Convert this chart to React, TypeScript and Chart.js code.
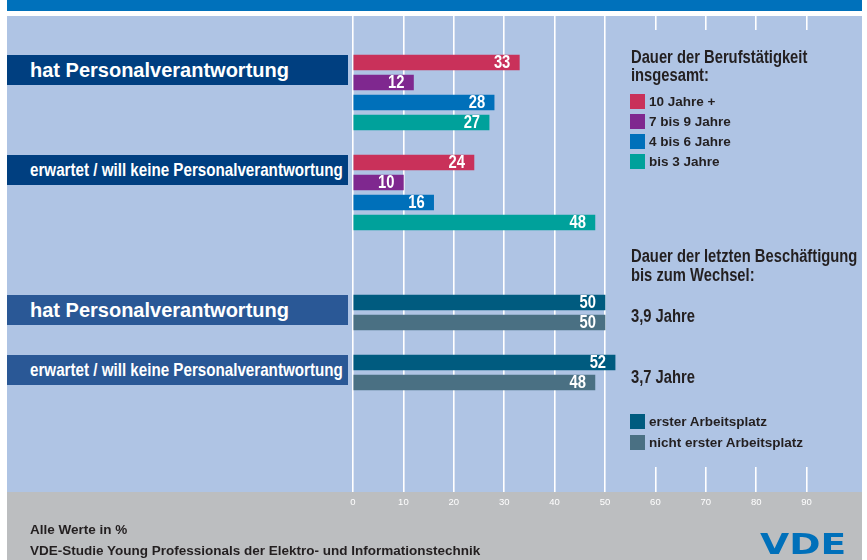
import React, { useEffect, useRef } from 'react';
import { Chart, registerables } from 'chart.js';

Chart.register(...registerables);

// ---------- data ----------
const groupLabels = [
  'hat Personalverantwortung',
  'erwartet / will keine Personalverantwortung',
  'hat Personalverantwortung',
  'erwartet / will keine Personalverantwortung',
];

const tenureTitle = ['Dauer der Berufstätigkeit', 'insgesamt:'];
const tenureCategories = ['10 Jahre +', '7 bis 9 Jahre', '4 bis 6 Jahre', 'bis 3 Jahre'];
const tenureHat = [33, 12, 28, 27];
const tenureErwartet = [24, 10, 16, 48];

const jobTitle = ['Dauer der letzten Beschäftigung', 'bis zum Wechsel:'];
const jobCategories = ['erster Arbeitsplatz', 'nicht erster Arbeitsplatz'];
const jobHat = [50, 50];
const jobErwartet = [52, 48];
const lastJobDuration = ['3,9 Jahre', '3,7 Jahre'];

const xTickValues = [0, 10, 20, 30, 40, 50, 60, 70, 80, 90];
const footerLines = ['Alle Werte in %', 'VDE-Studie Young Professionals der Elektro- und Informationstechnik'];

// ---------- styles ----------
const tenureColors = ['#C9315A', '#7F288F', '#0070BA', '#00A19B'];
const jobColors = ['#005B7F', '#4A7083'];
const boxColors = ['#003F80', '#003F80', '#2A5896', '#2A5896'];
const BAND = '#0071BB';
const PANEL = '#AFC4E4';
const FOOTER = '#BCBEC0';
const DARK = '#231F20';
const SANS = "'Liberation Sans', Arial, sans-serif";
const NARROW_X = 0.82; // horizontal squeeze to imitate a condensed face

// row slots of the index axis (each slot one bar)
const GROUP_START = [0, 5, 12, 15];
const ROW_TOP = 62.5;
const ROW_STEP = 20;
const Y_MIN = -2.325;
const Y_MAX = 21.475;

const rowPixel = (k: number) => ROW_TOP + ROW_STEP * k;

const abs = (s: React.CSSProperties): React.CSSProperties => ({ position: 'absolute', ...s });

function TextLine({ x, cy, lh, size, color, sx = 1, children }: any) {
  return (
    <div
      style={abs({
        left: x,
        top: cy - lh / 2,
        height: lh,
        lineHeight: lh + 'px',
        fontFamily: SANS,
        fontSize: size,
        fontWeight: 700,
        color,
        whiteSpace: 'nowrap',
        transform: sx !== 1 ? `scaleX(${sx})` : undefined,
        transformOrigin: 'left center',
      })}
    >
      {children}
    </div>
  );
}

export default function App() {
  const ref = useRef<HTMLCanvasElement>(null);

  useEffect(() => {
    document.body.style.margin = '0';
    const canvas = ref.current!;

    const datasets: any[] = [
      ...tenureCategories.map((name, i) => ({
        label: name,
        data: [
          { x: tenureHat[i], y: GROUP_START[0] + i },
          { x: tenureErwartet[i], y: GROUP_START[1] + i },
        ],
        backgroundColor: tenureColors[i],
      })),
      ...jobCategories.map((name, j) => ({
        label: name,
        data: [
          { x: jobHat[j], y: GROUP_START[2] + j },
          { x: jobErwartet[j], y: GROUP_START[3] + j },
        ],
        backgroundColor: jobColors[j],
      })),
    ];

    const coverPlugin = {
      id: 'legendCover',
      beforeDatasetsDraw(chart: any) {
        const c = chart.ctx;
        c.save();
        c.fillStyle = PANEL;
        c.fillRect(610, 30, 252, 437);
        c.restore();
      },
    };

    const valuePlugin = {
      id: 'valueLabels',
      afterDatasetsDraw(chart: any) {
        const c = chart.ctx;
        chart.data.datasets.forEach((ds: any, di: number) => {
          const meta = chart.getDatasetMeta(di);
          meta.data.forEach((bar: any, idx: number) => {
            c.save();
            c.fillStyle = '#FFFFFF';
            c.font = `bold 18px ${SANS}`;
            c.textAlign = 'right';
            c.textBaseline = 'middle';
            c.translate(bar.x - 9, bar.y + 1);
            c.scale(NARROW_X, 1);
            c.fillText(String(ds.data[idx].x), 0, 0);
            c.restore();
          });
        });
      },
    };

    const chart = new Chart(canvas, {
      type: 'bar',
      data: { datasets },
      options: {
        indexAxis: 'y',
        responsive: false,
        maintainAspectRatio: false,
        animation: false,
        grouped: false,
        barThickness: 15,
        layout: { padding: { left: 353, right: 10, top: 16, bottom: 48 } },
        plugins: { legend: { display: false }, tooltip: { enabled: false } },
        scales: {
          x: {
            type: 'linear',
            position: 'bottom',
            min: 0,
            max: 100,
            offset: false,
            border: { display: false },
            grid: {
              offset: false,
              color: (ctx: any) => (ctx.tick && xTickValues.includes(ctx.tick.value) ? '#FFFFFF' : 'rgba(0,0,0,0)'),
              lineWidth: 1.6,
              drawTicks: false,
            },
            ticks: {
              stepSize: 10,
              autoSkip: false,
              maxRotation: 0,
              padding: 5,
              color: '#FFFFFF',
              font: { family: SANS, size: 9.5 },
              callback: (v: any) => (xTickValues.includes(Number(v)) ? String(v) : ''),
            },
            afterFit: (s: any) => {
              s.height = 20;
            },
          },
          y: {
            type: 'linear',
            min: Y_MIN,
            max: Y_MAX,
            reverse: true,
            offset: false,
            display: false,
            grid: { display: false, offset: false },
          },
        },
      } as any,
      plugins: [coverPlugin, valuePlugin],
    });

    return () => chart.destroy();
  }, []);

  return (
    <div style={abs({ left: 0, top: 0, width: 867, height: 560, background: '#FFFFFF', overflow: 'hidden' })}>
      <div style={abs({ left: 7, top: 0, width: 855, height: 11, background: BAND })} />
      <div style={abs({ left: 7, top: 16, width: 855, height: 476, background: PANEL })} />
      <div style={abs({ left: 7, top: 492, width: 855, height: 68, background: FOOTER })} />

      <canvas ref={ref} width={867} height={560} style={abs({ left: 0, top: 0, width: 867, height: 560 })} />

      {groupLabels.map((lab, g) => {
        const top = rowPixel(GROUP_START[g]) - 7.5;
        const isHat = g % 2 === 0;
        return (
          <div
            key={'box' + g}
            style={abs({ left: 7, top, width: 341, height: 30, background: boxColors[g], overflow: 'hidden' })}
          >
            <div
              style={abs({
                left: 23,
                top: 0,
                height: 30,
                lineHeight: '30px',
                color: '#FFFFFF',
                fontFamily: SANS,
                fontSize: isHat ? 20 : 18.5,
                fontWeight: 700,
                whiteSpace: 'nowrap',
                transform: isHat ? undefined : `scaleX(${NARROW_X})`,
                transformOrigin: 'left center',
              })}
            >
              {lab}
            </div>
          </div>
        );
      })}

      {tenureTitle.map((t, i) => (
        <TextLine key={'tt' + i} x={631} cy={56.7 + 18.3 * i} lh={18} size={18} sx={NARROW_X} color={DARK}>
          {t}
        </TextLine>
      ))}
      {tenureCategories.map((t, i) => (
        <React.Fragment key={'tc' + i}>
          <div style={abs({ left: 630, top: 94 + 20 * i, width: 15, height: 15, background: tenureColors[i] })} />
          <TextLine x={649} cy={101.7 + 20 * i} lh={16} size={13.5} color={DARK}>
            {t}
          </TextLine>
        </React.Fragment>
      ))}

      {jobTitle.map((t, i) => (
        <TextLine key={'jt' + i} x={631} cy={256.3 + 18.7 * i} lh={18} size={18} sx={NARROW_X} color={DARK}>
          {t}
        </TextLine>
      ))}
      {lastJobDuration.map((t, i) => (
        <TextLine key={'jd' + i} x={631} cy={[315.8, 376.7][i]} lh={18} size={18} sx={NARROW_X} color={DARK}>
          {t}
        </TextLine>
      ))}
      {jobCategories.map((t, j) => (
        <React.Fragment key={'jc' + j}>
          <div style={abs({ left: 630, top: 414 + 21 * j, width: 15, height: 15, background: jobColors[j] })} />
          <TextLine x={649} cy={421.7 + 21 * j} lh={16} size={13.5} color={DARK}>
            {t}
          </TextLine>
        </React.Fragment>
      ))}

      {footerLines.map((t, i) => (
        <TextLine key={'f' + i} x={30} cy={529.5 + 21.5 * i} lh={16} size={13.5} color={DARK}>
          {t}
        </TextLine>
      ))}

      <div
        style={abs({
          left: 760,
          top: 530,
          height: 28,
          lineHeight: '28px',
          fontFamily: "'DejaVu Sans', sans-serif",
          fontWeight: 700,
          fontSize: 27.5,
          color: '#0070BA',
          transform: 'scaleX(1.37)',
          transformOrigin: 'left center',
          whiteSpace: 'nowrap',
        })}
      >
        VDE
      </div>
    </div>
  );
}
